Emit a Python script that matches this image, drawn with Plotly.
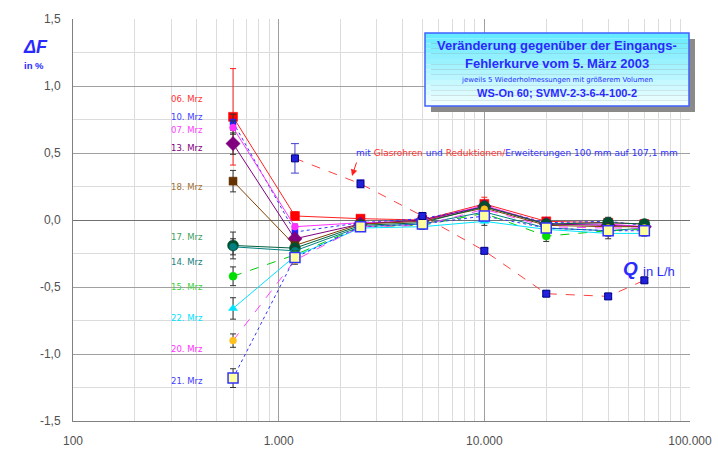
import plotly.graph_objects as go

Q = [600, 1200, 2500, 5000, 10000, 20000, 40000, 60000]

names = ["06. Mrz", "10. Mrz", "07. Mrz", "13. Mrz", "18. Mrz", "17. Mrz",
         "14. Mrz", "15. Mrz", "22. Mrz", "20. Mrz", "21. Mrz"]
values = [
    [0.77, 0.03, 0.01, 0.00, 0.12, -0.01, -0.02, -0.03],
    [0.73, -0.09, -0.02, 0.01, 0.10, -0.02, -0.01, -0.04],
    [0.69, -0.05, -0.02, -0.01, 0.11, -0.03, -0.03, -0.05],
    [0.57, -0.14, -0.03, 0.00, 0.10, -0.03, -0.04, -0.05],
    [0.29, -0.19, -0.03, -0.01, 0.09, -0.04, -0.05, -0.05],
    [-0.19, -0.21, -0.04, -0.02, 0.10, -0.03, -0.02, -0.03],
    [-0.20, -0.23, -0.05, -0.03, 0.06, -0.06, -0.08, -0.06],
    [-0.42, -0.26, -0.05, -0.04, 0.05, -0.12, -0.08, -0.07],
    [-0.66, -0.27, -0.06, -0.05, -0.01, -0.07, -0.10, -0.10],
    [-0.90, -0.30, -0.05, -0.04, 0.08, -0.05, -0.06, -0.06],
    [-1.18, -0.28, -0.05, -0.03, 0.03, -0.06, -0.08, -0.08],
]
errors = [
    [0.36, 0.03, 0.02, 0.02, 0.05, 0.02, 0.02, 0.02],
    [0.06, 0.02, 0.02, 0.02, 0.03, 0.02, 0.02, 0.02],
    [0.05, 0.02, 0.02, 0.02, 0.03, 0.02, 0.02, 0.02],
    [0.08, 0.02, 0.02, 0.02, 0.03, 0.02, 0.02, 0.02],
    [0.08, 0.02, 0.02, 0.02, 0.03, 0.02, 0.02, 0.02],
    [0.10, 0.03, 0.02, 0.02, 0.03, 0.02, 0.04, 0.02],
    [0.06, 0.03, 0.02, 0.02, 0.03, 0.02, 0.06, 0.02],
    [0.07, 0.03, 0.02, 0.02, 0.03, 0.04, 0.02, 0.02],
    [0.08, 0.03, 0.02, 0.02, 0.03, 0.02, 0.02, 0.02],
    [0.05, 0.03, 0.02, 0.02, 0.03, 0.02, 0.02, 0.02],
    [0.07, 0.03, 0.02, 0.02, 0.03, 0.02, 0.02, 0.02],
]
line_colors = ["#ff2020", "#3535ff", "#ff33ff", "#800080", "#804000", "#006040",
               "#008080", "#00cc00", "#00e5ff", "#ff44ff", "#3333ff"]
label_colors = ["#ff3030", "#4040ff", "#ff40ff", "#800080", "#a07030", "#40a060",
                "#208080", "#40d040", "#00e0ff", "#ff30ff", "#4040ff"]
dashes = ["solid", "dot", "solid", "solid", "solid", "solid",
          "solid", "dash", "solid", "dash", "dot"]
symbols = ["square", "square", "circle", "diamond", "square", "circle",
           "circle", "circle", "triangle-up", "circle", "square"]
msizes = [9, 6, 7, 11, 8, 11, 7, 8, 8, 7, 10]
mfill = ["#ff0000", "#2020ff", "#ff33ff", "#800080", "#663300", "#005030",
         "#008080", "#00dd00", "#00e5ff", "#ffc020", "#ffffa0"]
mline = ["#ff0000", "#2020ff", "#ff33ff", "#800080", "#663300", "#005030",
         "#008080", "#00dd00", "#00e5ff", "#ffc020", "#3333ff"]
label_y = [0.90, 0.77, 0.67, 0.54, 0.25, -0.13, -0.31, -0.50, -0.73, -0.96, -1.20]

Q_glas = [1200, 2500, 5000, 10000, 20000, 40000, 60000]
v_glas = [0.46, 0.27, 0.03, -0.23, -0.55, -0.57, -0.45]
e_glas = [0.11, 0.03, 0.02, 0.02, 0.02, 0.02, 0.02]

x_tickvals = [100, 1000, 10000, 100000]
x_ticktext = ["100", "1.000", "10.000", "100.000"]
y_tickvals = [-1.5, -1.0, -0.5, 0.0, 0.5, 1.0, 1.5]
y_ticktext = ["-1,5", "-1,0", "-0,5", "0,0", "0,5", "1,0", "1,5"]
x_minor = [m * d for d in (100, 1000, 10000) for m in range(2, 10)]

fig = go.Figure()

for i, n in enumerate(names):
    fig.add_trace(go.Scatter(
        x=Q, y=values[i], mode="lines+markers", name=n,
        line=dict(color=line_colors[i], width=1, dash=dashes[i]),
        marker=dict(symbol=symbols[i], size=msizes[i], color=mfill[i],
                    line=dict(color=mline[i], width=1.5 if i == 10 else 0.5)),
        error_y=dict(type="data", array=errors[i],
                     color=line_colors[0] if i == 0 else "#333333",
                     thickness=1, width=3),
    ))

fig.add_trace(go.Scatter(
    x=Q_glas, y=v_glas, mode="lines+markers", name="Glasrohr",
    line=dict(color="#ff4040", width=1, dash="dash"),
    marker=dict(symbol="square", size=7, color="#2020dd",
                line=dict(color="#000080", width=1)),
    error_y=dict(type="data", array=e_glas, color="#4040cc", thickness=1, width=4),
))

# label annotations
for i, n in enumerate(names):
    fig.add_annotation(x=0.184, xref="paper", y=label_y[i], yref="y",
                       xanchor="center", yanchor="middle",
                       text=n, showarrow=False,
                       font=dict(size=8.5, color=label_colors[i], family="DejaVu Sans"))

# title box (shadow + gradient bands)
px0, px1, py0, py1 = 425, 689, 33, 106
W, H = 617, 402
L, T = 73, 19
def xp(px): return (px - L) / W
def yp(py): return (T + H - py) / H

def note(px, py, text, size, color="#2a2aff", xanchor="center", family="Liberation Sans"):
    fig.add_annotation(x=xp(px), y=yp(py), xref="paper", yref="paper",
                       xanchor=xanchor, yanchor="middle", text=text, showarrow=False,
                       font=dict(size=size, color=color, family=family))

fig.add_shape(type="rect", xref="paper", yref="paper",
              x0=xp(px0 + 6), x1=xp(px1 + 6), y0=yp(py1 + 6), y1=yp(py0 + 6),
              fillcolor="#8a8a8a", line=dict(width=0), layer="above")
nb = 14
for k in range(nb):
    t = k / (nb - 1)
    r = int(0x66 + (0xf0 - 0x66) * t)
    g = int(0xea + (0xff - 0xea) * t)
    col = "#%02x%02xff" % (r, g)
    ya = py0 + (py1 - py0) * k / nb
    yb = py0 + (py1 - py0) * (k + 1) / nb
    fig.add_shape(type="rect", xref="paper", yref="paper",
                  x0=xp(px0), x1=xp(px1), y0=yp(yb), y1=yp(ya),
                  fillcolor=col, line=dict(width=0), layer="above")
fig.add_shape(type="rect", xref="paper", yref="paper",
              x0=xp(px0), x1=xp(px1), y0=yp(py1), y1=yp(py0),
              fillcolor="rgba(0,0,0,0)", line=dict(color="#4060ff", width=1.5),
              layer="above")

cx = (px0 + px1) / 2
note(cx, 46, "<b>Veränderung gegenüber der Eingangs-</b>", 13)
note(cx, 64, "<b>Fehlerkurve vom 5. März 2003</b>", 13)
note(cx, 80, "jeweils 5 Wiederholmessungen mit größerem Volumen", 7, family="DejaVu Sans")
note(cx, 93, "<b>WS-On 60; SVMV-2-3-6-4-100-2</b>", 11)

# axis titles
note(35, 47, "<b><i>ΔF</i></b>", 18)
note(34, 65, "<b>in %</b>", 9.5)
note(630, 268, "<b><i>Q</i></b>", 19)
note(641, 271, "in L/h", 13, xanchor="left")

# Glasrohr annotation
note(354, 153, ("<span style='color:#3030ff'>mit </span>"
                "<span style='color:#ff3030'>Glasrohren </span>"
                "<span style='color:#3030ff'>und </span>"
                "<span style='color:#ff3030'>Reduktionen/</span>"
                "<span style='color:#3030ff'>Erweiterungen 100 mm auf 107,1 mm</span>"),
     9, color="#3030ff", xanchor="left", family="DejaVu Sans")
fig.add_annotation(x=xp(352), y=yp(176), xref="paper", yref="paper",
                   ax=5, ay=-15,
                   text="", showarrow=True, arrowhead=2, arrowsize=1.3,
                   arrowwidth=1, arrowcolor="#ff2020")

fig.update_layout(
    width=718, height=452,
    margin=dict(l=L, r=718 - L - W, t=T, b=452 - T - H, autoexpand=False),
    plot_bgcolor="white", paper_bgcolor="white",
    showlegend=False,
    font=dict(family="Liberation Sans", size=11, color="#555555"),
    xaxis=dict(type="log", range=[2, 5], tickvals=x_tickvals, ticktext=x_ticktext,
               automargin=False,
               showgrid=True, gridcolor="#a0a0a0", gridwidth=1,
               minor=dict(tickvals=x_minor, showgrid=True, gridcolor="#dcdcdc", gridwidth=1),
               showline=True, linecolor="#808080", linewidth=1, mirror=False,
               ticks="", zeroline=False, ticklabelstandoff=9,
               tickfont=dict(size=12, color="#505050")),
    yaxis=dict(range=[-1.5, 1.5], tickvals=y_tickvals, ticktext=y_ticktext,
               automargin=False,
               showgrid=True, gridcolor="#a0a0a0", gridwidth=1,
               minor=dict(dtick=0.25, showgrid=True, gridcolor="#dcdcdc", gridwidth=1),
               showline=True, linecolor="#808080", linewidth=1,
               zeroline=True, zerolinecolor="#707070", zerolinewidth=1,
               ticks="", ticklabelstandoff=9,
               tickfont=dict(size=12, color="#505050")),
)

fig.write_html("out.html")
